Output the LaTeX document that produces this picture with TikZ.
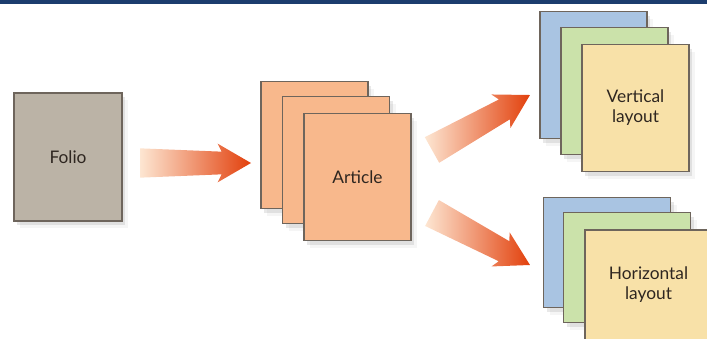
\documentclass[tikz,border=0pt]{standalone}
\usepackage{fontspec}
\setmainfont{Lato}
\usetikzlibrary{calc,shadows}

\definecolor{navybar}{HTML}{1C3D6E}
\definecolor{cardedge}{HTML}{6E655C}
\definecolor{cardtext}{HTML}{2E2620}
\definecolor{foliofill}{HTML}{BBB3A6}
\definecolor{articlefill}{HTML}{F8B88C}
\definecolor{bluefill}{HTML}{A9C4E2}
\definecolor{greenfill}{HTML}{CBE2AA}
\definecolor{yellowfill}{HTML}{F8E1A8}
\definecolor{arrowtail}{HTML}{FDE6D2}
\definecolor{arrowmid}{HTML}{F08650}
\definecolor{arrowhead}{HTML}{E2400C}

% fat shaded arrow between two named coordinates
\newcommand{\fatarrow}[2]{%
    \path let \p1=(#1), \p2=(#2) in \pgfextra{%
        \pgfmathsetmacro{\arrowang}{atan2((\y2)-(\y1),(\x2)-(\x1))}%
        \pgfmathsetmacro{\arrowlen}{veclen((\x2)-(\x1),(\y2)-(\y1))}%
        \global\let\arrowang\arrowang
        \global\let\arrowlen\arrowlen};
    \begin{scope}[shift={(#1)}, rotate=\arrowang, x=1pt, y=1pt]
        \path[fatarrow] (0,11) -- ({\arrowlen-22},8.5) -- ({\arrowlen-25},14.5) -- (\arrowlen,0)
            -- ({\arrowlen-25},-14.5) -- ({\arrowlen-22},-8.5) -- (0,-11) -- cycle;
    \end{scope}}

\begin{document}
\begin{tikzpicture}[x=0.75pt, y=-0.75pt]
    % Define styles
    \tikzset{
        card/.style={draw=cardedge, line width=0.8pt, text=cardtext, align=center,
            font=\fontsize{13}{15}\selectfont,
            drop shadow={opacity=0.08, shadow xshift=4.5pt, shadow yshift=-5.5pt},
            drop shadow={opacity=0.18, shadow xshift=2.5pt, shadow yshift=-3pt}},
        portraitcard/.style={card, minimum width=80.25pt, minimum height=95.25pt},
        landscapecard/.style={card, minimum width=95.25pt, minimum height=82.5pt},
        fatarrow/.style={left color=arrowtail, middle color=arrowmid, right color=arrowhead}
    }
    \useasboundingbox (0,0) rectangle (707,339);

    % Top bar
    \fill[navybar] (0,0) rectangle (707,3.5);

    % Folio
    \node[portraitcard, fill=foliofill, minimum width=81pt, minimum height=96pt] (folio) at (68,157) {Folio};

    % Article stack
    \node[portraitcard, fill=articlefill] (art1) at (314.5,145) {};
    \node[portraitcard, fill=articlefill] (art2) at (336,160) {};
    \node[portraitcard, fill=articlefill] (art3) at (357.5,177) {Article};

    % Vertical layout stack
    \node[portraitcard, fill=bluefill] (vert1) at (593.5,75) {};
    \node[portraitcard, fill=greenfill] (vert2) at (614.5,91) {};
    \node[portraitcard, fill=yellowfill] (vert3) at (635.5,108) {Vertical\\layout};

    % Horizontal layout stack
    \node[landscapecard, fill=bluefill] (hor1) at (607,252.5) {};
    \node[landscapecard, fill=greenfill] (hor2) at (627,267.5) {};
    \node[landscapecard, fill=yellowfill] (hor3) at (648.5,285) {Horizontal\\layout};

    % Arrow ends
    \coordinate (a1s) at (140,163);
    \coordinate (a1e) at (251,163);
    \coordinate (a2s) at (432,150);
    \coordinate (a2e) at (530,95);
    \coordinate (a3s) at (432,213);
    \coordinate (a3e) at (530,265);

    % Arrows
    \fatarrow{a1s}{a1e}
    \fatarrow{a2s}{a2e}
    \fatarrow{a3s}{a3e}
\end{tikzpicture}
\end{document}
